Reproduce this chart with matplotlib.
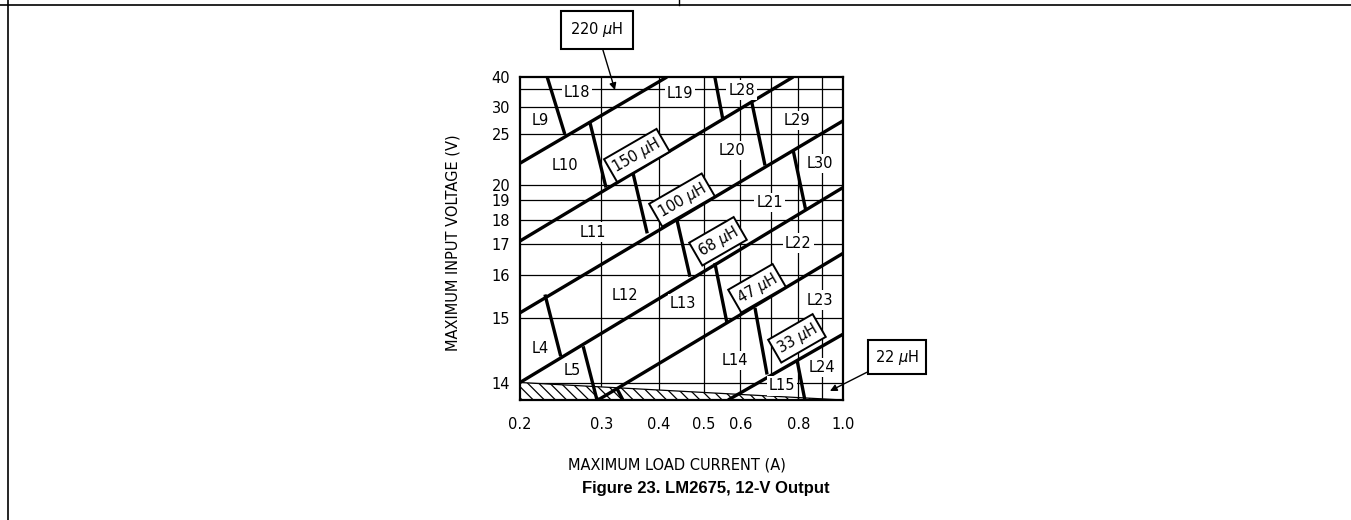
import numpy as np
import matplotlib
matplotlib.use("Agg")
import matplotlib.pyplot as plt
from matplotlib.lines import Line2D
from matplotlib.ticker import FixedLocator, NullLocator

V_OUT = 12.0

# ---------------- axes ----------------
I_MIN, I_MAX = 0.2, 1.0
V_MIN, V_MAX = 13.8, 40.0
x_ticks = [0.2, 0.3, 0.4, 0.5, 0.6, 0.8, 1.0]
x_tick_labels = ["0.2", "0.3", "0.4", "0.5", "0.6", "0.8", "1.0"]
x_grid = [0.3, 0.4, 0.5, 0.6, 0.7, 0.8, 0.9]
y_ticks = [14, 15, 16, 17, 18, 19, 20, 25, 30, 40]
y_grid = [14, 15, 16, 17, 18, 19, 20, 25, 30, 35]

# ---------------- inductance boundaries (A, V) ----------------
bound_i0 = [0.2, 0.2, 0.2, 0.2, 0.295, 0.564]
bound_v0 = [21.7, 17.1, 15.1, 14.0, 13.8, 13.8]
bound_i1 = [0.416, 0.78, 1.0, 1.0, 1.0, 1.0]
bound_v1 = [40.0, 40.0, 27.1, 19.8, 16.66, 14.7]

# core-size boundaries inside each inductance band
seg_i0 = [0.229, 0.283, 0.528, 0.351, 0.635, 0.2265, 0.437, 0.78, 0.274, 0.528, 0.645, 0.795, 0.324]
seg_v0 = [40.0, 27.0, 40.0, 20.9, 31.0, 15.5, 18.0, 23.0, 14.5, 16.35, 15.2, 14.3, 13.93]
seg_i1 = [0.25, 0.307, 0.55, 0.377, 0.678, 0.245, 0.4665, 0.83, 0.2935, 0.561, 0.685, 0.827, 0.334]
seg_v1 = [25.0, 19.8, 27.2, 17.4, 21.5, 14.35, 15.95, 18.5, 13.8, 14.9, 14.1, 13.8, 13.8]

# hatched (not allowed) area
hatch_i = [0.2, 1.0]
hatch_v = [14.0, 13.8]

# ---------------- labels ----------------
reg_names = ["L18", "L9", "L19", "L28", "L10", "L29", "L20", "L11", "L21", "L30",
             "L22", "L12", "L4", "L5", "L13", "L23", "L14", "L15", "L24"]
reg_i = [0.2657, 0.221, 0.4438, 0.6045, 0.2503, 0.795, 0.575, 0.2877, 0.695, 0.892,
         0.80, 0.3374, 0.221, 0.2592, 0.4505, 0.892, 0.5837, 0.738, 0.9006]
reg_v = [34.0, 27.2, 33.7, 34.7, 21.5, 27.2, 23.0, 17.45, 18.89, 21.7,
         17.02, 15.48, 14.47, 14.15, 15.30, 15.37, 14.29, 13.96, 14.19]

ind_names = ["150", "100", "68", "47", "33"]
ind_i = [0.358, 0.4483, 0.5364, 0.6514, 0.795]
ind_v = [22.45, 19.02, 17.09, 15.65, 14.63]


def fwd(v):
    v = np.asarray(v, dtype=float)
    with np.errstate(divide="ignore", invalid="ignore"):
        r = 1.0 - V_OUT / v
    return np.log10(np.clip(r, 1e-6, None))


def inv(y):
    y = np.asarray(y, dtype=float)
    return V_OUT / (1.0 - 10.0 ** y)


fig = plt.figure(figsize=(13.51, 5.2), dpi=100)
ax = fig.add_axes([520 / 1351, 1 - 400 / 520, 323 / 1351, 323 / 520])
ax.set_xscale("log")
ax.set_yscale("function", functions=(fwd, inv))

for x in x_grid:
    ax.axvline(x, color="black", lw=0.9, zorder=1)
for y in y_grid:
    ax.axhline(y, color="black", lw=0.9, zorder=1)

plt.rcParams["hatch.linewidth"] = 0.9
ax.fill_between(hatch_i, [V_MIN, V_MIN], hatch_v, facecolor="white",
                edgecolor="black", hatch="\\\\\\", lw=0.9, zorder=2)

for a, b, c, d in zip(bound_i0, bound_v0, bound_i1, bound_v1):
    ax.plot([a, c], [b, d], color="black", lw=2.4, solid_capstyle="butt", zorder=3)
for a, b, c, d in zip(seg_i0, seg_v0, seg_i1, seg_v1):
    ax.plot([a, c], [b, d], color="black", lw=2.4, solid_capstyle="butt", zorder=3)

for name, x, y in zip(reg_names, reg_i, reg_v):
    ax.text(x, y, name, ha="center", va="center", fontsize=10.5, zorder=4,
            bbox=dict(boxstyle="square,pad=0.15", fc="white", ec="none"))

for name, x, y in zip(ind_names, ind_i, ind_v):
    ax.text(x, y, name + r" $\mu$H", ha="center", va="center", fontsize=10.5,
            rotation=30, rotation_mode="anchor", zorder=5,
            bbox=dict(boxstyle="square,pad=0.25", fc="white", ec="black", lw=1.4))

ax.annotate(r"220 $\mu$H", xy=(0.321, 34.7), xytext=(0.238, 1.146),
            textcoords="axes fraction", ha="center", va="center", fontsize=10.5,
            bbox=dict(boxstyle="square,pad=0.65", fc="white", ec="black", lw=1.5),
            arrowprops=dict(arrowstyle="-|>", color="black", lw=1.0,
                            mutation_scale=10, shrinkA=0, shrinkB=0),
            annotation_clip=False, zorder=6)
ax.annotate(r"22 $\mu$H", xy=(0.937, 13.9), xytext=(1.167, 0.133),
            textcoords="axes fraction", ha="center", va="center", fontsize=10.5,
            bbox=dict(boxstyle="square,pad=0.5", fc="white", ec="black", lw=1.5),
            arrowprops=dict(arrowstyle="-|>", color="black", lw=1.0,
                            mutation_scale=10, shrinkA=0, shrinkB=0),
            annotation_clip=False, zorder=6)

ax.set_xlim(I_MIN, I_MAX)
ax.set_ylim(V_MIN, V_MAX)
ax.xaxis.set_major_locator(FixedLocator(x_ticks))
ax.xaxis.set_minor_locator(NullLocator())
ax.set_xticklabels(x_tick_labels)
ax.yaxis.set_major_locator(FixedLocator(y_ticks))
ax.yaxis.set_minor_locator(NullLocator())
ax.set_yticklabels([str(v) for v in y_ticks])
ax.tick_params(length=0, labelsize=10.5)
ax.tick_params(axis="x", pad=12)
ax.tick_params(axis="y", pad=7)
for s in ax.spines.values():
    s.set_linewidth(1.6)

fig.text(677 / 1351, 1 - 465 / 520, "MAXIMUM LOAD CURRENT (A)", ha="center",
         va="center", fontsize=10.5)
fig.text(453 / 1351, 1 - 243 / 520, "MAXIMUM INPUT VOLTAGE (V)", ha="center",
         va="center", fontsize=10.5, rotation=90)
fig.text(706 / 1351, 1 - 489 / 520, "Figure 23. LM2675, 12-V Output", ha="center",
         va="center", fontsize=12, fontweight="bold", family="Liberation Sans")

# page frame
fig.add_artist(Line2D([0, 1], [1 - 5 / 520] * 2, transform=fig.transFigure, color="black", lw=1.2))
fig.add_artist(Line2D([8 / 1351] * 2, [0, 1], transform=fig.transFigure, color="black", lw=1.2))
fig.add_artist(Line2D([679 / 1351] * 2, [1 - 5 / 520, 1], transform=fig.transFigure, color="black", lw=1.0))

fig.savefig("out.png", dpi=100)
